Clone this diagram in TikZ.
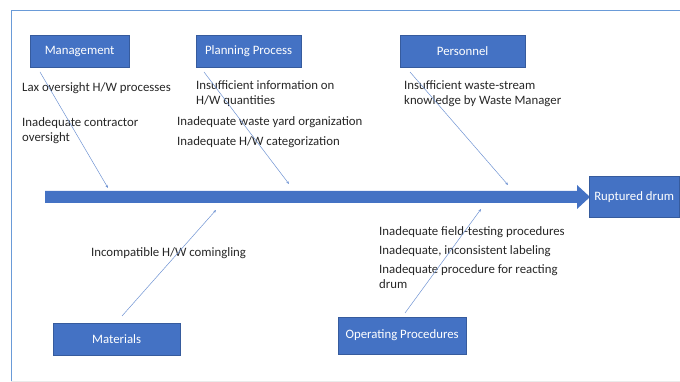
\documentclass[tikz,border=0pt]{standalone}
\usepackage{fontspec}
\setmainfont{Carlito}
\usetikzlibrary{arrows.meta}
\definecolor{boxblue}{HTML}{4472C4}
\definecolor{frameblue}{HTML}{6A9BD8}
\definecolor{linkblue}{HTML}{6F93D3}
\definecolor{txt}{HTML}{262626}
\tikzset{
  catbox/.style={fill=boxblue, draw=boxblue!80!black, line width=0.3pt, text=white, font=\fontsize{12.8}{14}\selectfont, inner sep=0pt, anchor=north west},
  cause/.style={text=txt, font=\fontsize{12.8}{14.8}\selectfont, align=left, anchor=west, inner sep=0pt},
  link/.style={draw=linkblue, line width=0.5pt, -{Stealth[length=3pt,width=2.5pt]}},
}
\begin{document}
\begin{tikzpicture}[x=1pt,y=-1pt]
\useasboundingbox (0,0) rectangle (680,382);
% frame
\draw[frameblue, line width=1pt] (11,382) -- (11,11) -- (680,11);
\draw[black!8, line width=0.8pt] (11,381) -- (680,381);
% main spine
\fill[boxblue] (45,191) -- (577,191) -- (577,185) -- (590,197) -- (577,209) -- (577,203) -- (45,203) -- cycle;
% category boxes
\node[catbox, minimum width=99pt, minimum height=32pt] (mgmt) at (30,35) {Management};
\node[catbox, minimum width=105pt, minimum height=32pt] (plan) at (196,35) {Planning Process};
\node[catbox, minimum width=125pt, minimum height=32pt] (pers) at (400,35) {Personnel};
\node[catbox, minimum width=127pt, minimum height=32pt] (mat) at (53,323) {Materials};
\node[catbox, minimum width=128pt, minimum height=37pt] (ops) at (338,317) {Operating Procedures};
\node[catbox, minimum width=90pt, minimum height=41pt] (drum) at (589,176) {Ruptured drum};
% causes
\node[cause] (c1) at (22,88) {Lax oversight H/W processes};
\node[cause] (c2) at (22,131) {Inadequate contractor\\oversight};
\node[cause] (c3) at (196,94) {Insufficient information on\\H/W quantities};
\node[cause] (c4) at (177,122) {Inadequate waste yard organization};
\node[cause] (c5) at (177,142) {Inadequate H/W categorization};
\node[cause] (c6) at (404,93.5) {Insufficient waste-stream\\knowledge by Waste Manager};
\node[cause] (c7) at (91,253) {Incompatible H/W comingling};
\node[cause] (c8) at (379,232) {Inadequate field-testing procedures};
\node[cause] (c9) at (379,251) {Inadequate, inconsistent labeling};
\node[cause] (c10) at (379,277) {Inadequate procedure for reacting\\drum};
% connector end points on the spine
\coordinate (e1s) at (40,72);  \coordinate (e1) at (108,188);
\coordinate (e2s) at (204,72); \coordinate (e2) at (289,184);
\coordinate (e3s) at (410,72); \coordinate (e3) at (508,185);
\coordinate (e4s) at (122,316); \coordinate (e4) at (216,210);
\coordinate (e5s) at (405,313); \coordinate (e5) at (481,209);
\draw[link] (e1s) -- (e1);
\draw[link] (e2s) -- (e2);
\draw[link] (e3s) -- (e3);
\draw[link] (e4s) -- (e4);
\draw[link] (e5s) -- (e5);
\end{tikzpicture}
\end{document}
